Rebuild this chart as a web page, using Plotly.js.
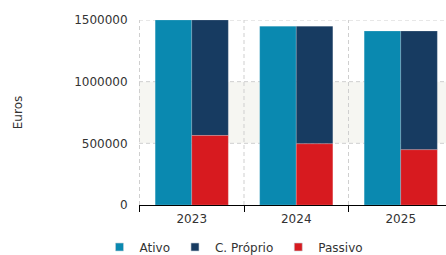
<!DOCTYPE html>
<html><head><meta charset="utf-8">
<script src="https://cdn.plot.ly/plotly-3.0.1.min.js"></script>
<style>html,body{margin:0;padding:0;overflow:hidden;background:#fff}</style>
</head><body><div id="chart"></div>
<script>
const years = ['2023', '2024', '2025'];
const ativo = [1500000, 1450000, 1410000];
const passivo = [564000, 496000, 448000];
const capitalProprio = [936000, 954000, 962000];
const yTicks = [0, 500000, 1000000, 1500000];
const names = ['Ativo', 'C. Próprio', 'Passivo'];
const colors = ['#0a89b0', '#173b61', '#d71a1f'];

const W = 453, H = 255, L = 139, R = 0;
const barLine = {color:'rgba(255,255,255,0.35)', width:0.5};
const traces = [
  {type:'bar', name:names[0], x:years, y:ativo, offsetgroup:'a', marker:{color:colors[0], line:barLine}, showlegend:false},
  {type:'bar', name:names[1], x:years, y:capitalProprio, base:passivo, offsetgroup:'b', marker:{color:colors[1], line:barLine}, showlegend:false},
  {type:'bar', name:names[2], x:years, y:passivo, offsetgroup:'b', marker:{color:colors[2], line:barLine}, showlegend:false}
];
names.forEach((n, i) => traces.push({type:'scatter', mode:'markers', name:n, x:[null], y:[null],
  marker:{symbol:'square', size:8, color:colors[i], line:{color:'#c8d0d8', width:0.6}}, showlegend:true}));

const gridLine = {color:'#cfcfcf', width:1, dash:'4px,3px'};
const shapes = [{type:'rect', xref:'paper', yref:'y', x0:0, x1:1, y0:yTicks[1], y1:yTicks[2],
                 fillcolor:'#f6f6f2', line:{width:0}, layer:'below'}];
yTicks.slice(1).forEach(v => shapes.push({type:'line', xref:'paper', yref:'y', x0:0, x1:1, y0:v, y1:v,
                 line:gridLine, layer:'below'}));
years.forEach((y, i) => shapes.push({type:'line', xref:'x', yref:'paper', x0:i-0.5, x1:i-0.5, y0:0, y1:1,
                 line:gridLine, layer:'below'}));

const layout = {
  width:W, height:H,
  margin:{l:L, r:R, t:20, b:50},
  paper_bgcolor:'#fff', plot_bgcolor:'#fff',
  font:{family:'DejaVu Sans', size:12, color:'#333'},
  barmode:'group', bargap:0.3, bargroupgap:0,
  showlegend:true,
  legend:{orientation:'h', xref:'container', yref:'container', x:234/W, xanchor:'center',
          y:(H-247)/H, yanchor:'middle',
          font:{size:12, color:'#333'}, traceorder:'normal', itemwidth:30},
  xaxis:{type:'category', tickson:'boundaries', ticks:'outside', ticklen:6, tickcolor:'#000',
         showline:true, linecolor:'#000', linewidth:1, showgrid:false, ticklabelstandoff:3,
         zeroline:false, fixedrange:true, automargin:false},
  yaxis:{range:[0,1500000], tickvals:yTicks, ticktext:yTicks.map(String), showgrid:false,
         zeroline:false, showline:false,
         ticks:'outside', ticklen:8, tickcolor:'rgba(0,0,0,0)', automargin:false,
         title:{text:'Euros', font:{size:12, color:'#333'}, standoff:48}},
  shapes:shapes
};
Plotly.newPlot('chart', traces, layout, {displayModeBar:false, staticPlot:true});
</script></body></html>
